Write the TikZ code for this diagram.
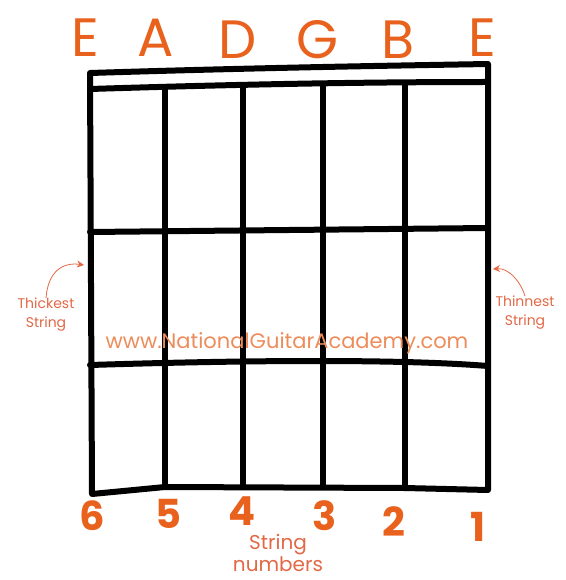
\documentclass[tikz,border=0pt]{standalone}
\usepackage{fontspec}
\setmainfont{Poppins}
\usetikzlibrary{arrows.meta,positioning,calc}
\definecolor{NoteOrange}{RGB}{232,98,30}
\definecolor{LabelRed}{RGB}{226,104,70}
\definecolor{WebOrange}{RGB}{236,140,90}
\tikzset{
  tuning/.style={text=NoteOrange,font=\fontsize{54}{54}\selectfont,inner sep=0pt},
  stringnum/.style={text=NoteOrange,font=\bfseries\fontsize{40}{40}\selectfont,inner sep=0pt},
  sidenote/.style={text=LabelRed,font=\fontsize{14}{19}\selectfont,align=center,inner sep=0pt},
  bottomnote/.style={text=LabelRed,font=\fontsize{20}{22}\selectfont,align=center,inner sep=0pt},
  website/.style={text=WebOrange,font=\fontsize{21}{21}\selectfont,inner sep=0pt},
  board/.style={line width=6pt,line cap=round,line join=round},
  pointer/.style={-{Stealth[length=7pt,width=7pt]},draw=LabelRed,line width=0.8pt}
}

\begin{document}
\begin{tikzpicture}[x=1pt,y=-1pt]
\useasboundingbox (0,0) rectangle (565,580);

% corners of the fretboard
\coordinate (tl) at (90,73);
\coordinate (tr) at (488,64);
\coordinate (bl) at (92,494);
\coordinate (br) at (488,490);
\coordinate (nutL) at (90,89);
\coordinate (nutR) at (488,82);
\coordinate (fretAL) at (90,232);
\coordinate (fretAR) at (488,228);
\coordinate (fretBL) at (90,365);
\coordinate (fretBR) at (488,366);

% inner strings
\foreach \s/\x/\yt/\yb in {5/165/88/487, 4/243/87/486, 3/323/85/485, 2/405/84/488} {
  \coordinate (top\s) at (\x,\yt);
  \coordinate (bot\s) at (\x,\yb);
}

\draw[board] (bl) -- (tl) .. controls (250,68) and (370,66) .. (tr) -- (br) -- (bot2) -- (bot5) -- cycle;
\draw[board] (nutL) .. controls (250,84) and (370,82) .. (nutR);
\foreach \s in {2,...,5}
  \draw[board] (top\s) -- (bot\s);
\draw[board] (fretAL) -- (fretAR);
\draw[board] (fretBL) .. controls (250,360) and (400,359) .. (fretBR);

% open string names
\node[tuning] (tuneEsix) at (85,38) {E};
\node[tuning] (tuneA) at (156,38) {A};
\node[tuning] (tuneD) at (238,40) {D};
\node[tuning] (tuneG) at (318,40) {G};
\node[tuning] (tuneB) at (398,40) {B};
\node[tuning] (tuneEone) at (482,38) {E};

% string numbers
\node[stringnum] (num6) at (92,516) {6};
\node[stringnum] (num5) at (168,514) {5};
\node[stringnum] (num4) at (242,511) {4};
\node[stringnum] (num3) at (325,516) {3};
\node[stringnum] (num2) at (394,522) {2};
\node[stringnum] (num1) at (478,527) {1};
\node[bottomnote] (numnote) at (278,553) {String\\numbers};

\node[website] (site) at (287,343) {www.NationalGuitarAcademy.com};

% thickest / thinnest
\coordinate (leftedge) at (84,265);
\coordinate (rightedge) at (493,269);
\node[sidenote] (thick) at (46,315) {Thickest\\String};
\node[sidenote] (thin) at (525,313) {Thinnest\\String};
\draw[pointer] (thick.north) .. controls (48,272) and (62,262) .. (leftedge);
\draw[pointer] (thin.north) .. controls (520,280) and (508,268) .. (rightedge);
\end{tikzpicture}
\end{document}
